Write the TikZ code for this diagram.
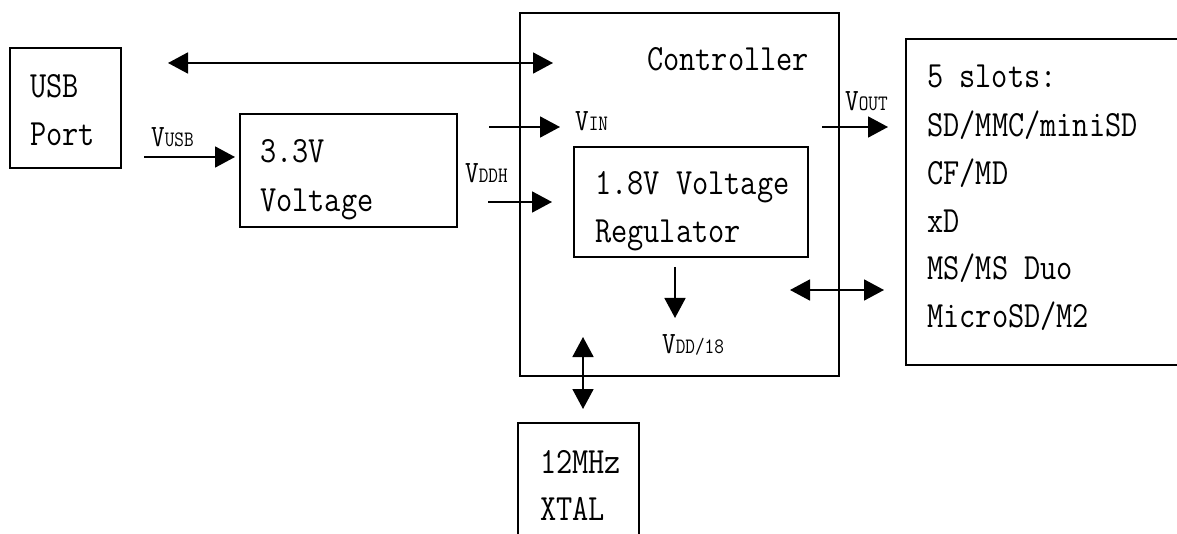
\documentclass[tikz,border=0pt]{standalone}
\usepackage{fontspec}
\setmainfont{Latin Modern Mono}[FakeStretch=0.85]
\usetikzlibrary{arrows.meta}
\newcommand\vlab[1]{{\fontsize{31}{31}\selectfont V}{\fontsize{22}{22}\selectfont #1}}
\begin{document}
\begin{tikzpicture}[x=1pt,y=-1pt,
 box/.style={draw, line width=1.6pt, anchor=north west, inner sep=0pt, outer sep=0pt},
 txt/.style={anchor=base west, inner sep=0pt, font=\fontsize{37}{37}\selectfont},
 lab/.style={anchor=base west, inner sep=0pt},
 arr/.style={-{Triangle[length=20pt,width=21pt]}, line width=1.8pt},
 darr/.style={{Triangle[length=20pt,width=21pt]}-{Triangle[length=20pt,width=21pt]}, line width=1.8pt}]
\useasboundingbox (0,0) rectangle (1177,534);
\clip (0,0) rectangle (1177,534);
\fill[white] (0,0) rectangle (1177,534);

% boxes
\node[box, minimum width=111pt, minimum height=120pt] (usb) at (10,48) {};
\node[box, minimum width=217pt, minimum height=113pt] (v33) at (240,114) {};
\node[box, minimum width=319pt, minimum height=363pt] (ctrl) at (520,13) {};
\node[box, minimum width=234pt, minimum height=110pt] (reg) at (574,147) {};
\node[box, minimum width=121pt, minimum height=150pt] (xtal) at (518,423) {};
\node[box, minimum width=350pt, minimum height=326pt] (slots) at (906,39) {};

% texts
\node[txt] (t1) at (30,98) {USB};
\node[txt] (t2) at (30,146) {Port};
\node[txt] (t3) at (260,163) {3.3V};
\node[txt] (t4) at (260,212) {Voltage};
\node[txt] (t5) at (647,71) {Controller};
\node[txt] (t6) at (595,195) {1.8V Voltage};
\node[txt] (t7) at (595,243) {Regulator};
\node[txt] (t8) at (540,473) {12MHz};
\node[txt] (t9) at (540,520) {XTAL};
\node[txt] (s1) at (927,88) {5 slots:};
\node[txt] (s2) at (927,137) {SD/MMC/miniSD};
\node[txt] (s3) at (927,185) {CF/MD};
\node[txt] (s4) at (927,233) {xD};
\node[txt] (s5) at (927,280) {MS/MS Duo};
\node[txt] (s6) at (927,327) {MicroSD/M2};

% labels
\node[lab] (lusb) at (151,147) {\vlab{USB}};
\node[lab] (lin) at (575,131) {\vlab{IN}};
\node[lab] (lddh) at (465,183) {\vlab{DDH}};
\node[lab] (ldd) at (662,353) {\vlab{DD/18}};
\node[lab] (lout) at (845,111) {\vlab{OUT}};

% connector ends
\coordinate (a1) at (168,63);  \coordinate (a2) at (553,63);
\coordinate (b1) at (144,157); \coordinate (b2) at (235,157);
\coordinate (c1) at (489,127); \coordinate (c2) at (560,127);
\coordinate (d1) at (488,202); \coordinate (d2) at (552,202);
\coordinate (e1) at (675,267); \coordinate (e2) at (675,318);
\coordinate (f1) at (583,337); \coordinate (f2) at (583,409);
\coordinate (g1) at (822,127); \coordinate (g2) at (888,127);
\coordinate (h1) at (790,290); \coordinate (h2) at (884,290);

\draw[darr] (a1) -- (a2);
\draw[arr] (b1) -- (b2);
\draw[arr] (c1) -- (c2);
\draw[arr] (d1) -- (d2);
\draw[arr] (e1) -- (e2);
\draw[darr] (f1) -- (f2);
\draw[arr] (g1) -- (g2);
\draw[darr] (h1) -- (h2);
\end{tikzpicture}
\end{document}
